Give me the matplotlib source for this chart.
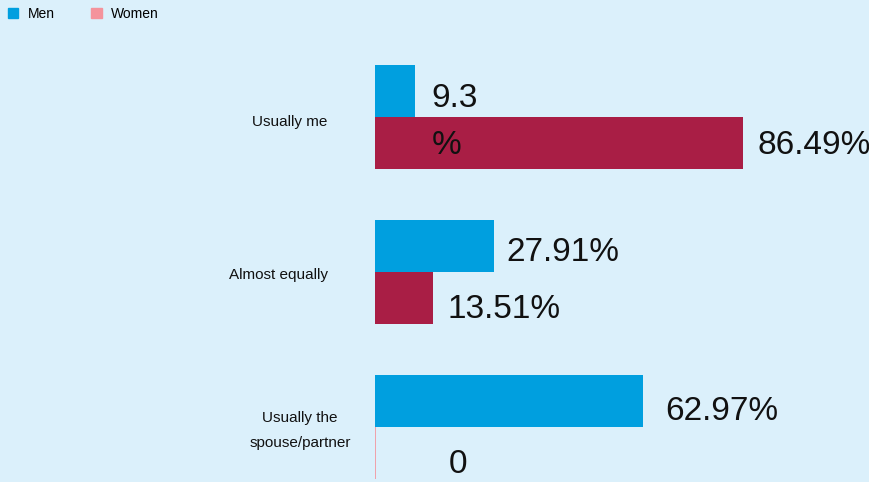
import matplotlib.pyplot as plt
from matplotlib.patches import Patch
from matplotlib.transforms import ScaledTranslation
import numpy as np

categories = ["Usually me", "Almost equally", "Usually the\nspouse/partner"]
men = [9.3, 27.91, 62.97]
women = [86.49, 13.51, 0]
men_labels = ["9.3\n%", "27.91%", "62.97%"]
women_labels = ["86.49%", "13.51%", "0"]

BG = "#dbf0fb"
BLUE = "#009fdf"
RED = "#a91e45"
PINK = "#f4939c"

plt.rcParams['font.family'] = ['Liberation Sans', 'DejaVu Sans']

fig = plt.figure(figsize=(8.7, 4.82), dpi=100, facecolor=BG)
ax = fig.add_axes([375 / 870, 0, 1 - 375 / 870, 1])
ax.set_facecolor(BG)

y = np.arange(len(categories))
h = 0.335
ax.barh(y - h / 2, men, h, color=BLUE)
ax.barh(y + h / 2, women, h, color=RED, edgecolor=PINK, linewidth=[0, 0, 1.2])

ax.set_xlim(0, 116.3)
ax.set_ylim(2.355, -0.755)

# value labels
men_off = [(17, -5), (13, -6), (22, -10)]
women_off = [(14, -3), (15, -12), (74, -12)]
for i in range(len(categories)):
    if "\n" in men_labels[i]:
        ax.annotate(men_labels[i], (men[i], y[i]), xytext=men_off[i], textcoords="offset pixels",
                    ha="left", va="center", fontsize=24, linespacing=1.65, color="#111111")
    else:
        ax.annotate(men_labels[i], (men[i], y[i] - h / 2), xytext=men_off[i], textcoords="offset pixels",
                    ha="left", va="center", fontsize=24, color="#111111")
    ax.annotate(women_labels[i], (women[i], y[i] + h / 2), xytext=women_off[i], textcoords="offset pixels",
                ha="left", va="center", fontsize=24, color="#111111")

ax.set_yticks(y)
ax.set_yticklabels(categories, fontsize=11, multialignment="center", color="#111111", linespacing=1.95)
ax.tick_params(axis="y", length=0, pad=34)
ax.set_xticks([])
for s in ax.spines.values():
    s.set_visible(False)
shifts = [(0, -0.03), (0, -0.02), (0.23, 0.03)]
for lab, (dx, dy) in zip(ax.get_yticklabels(), shifts):
    lab.set_transform(lab.get_transform() + ScaledTranslation(dx, dy, fig.dpi_scale_trans))

handles = [Patch(color=BLUE, label="Men"), Patch(color=PINK, label="Women")]
fig.legend(handles=handles, loc="upper left", bbox_to_anchor=(-0.002, 1.006), ncol=2, frameon=False,
           handlelength=0.75, handleheight=0.75, columnspacing=2.6, handletextpad=0.7,
           borderaxespad=0.3, prop={'size': 10})

fig.savefig("out.png", dpi=100, facecolor=BG)
